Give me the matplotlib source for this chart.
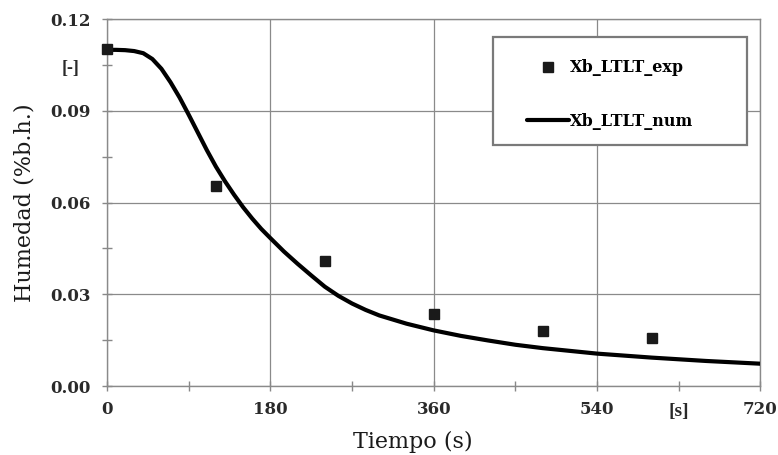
import matplotlib
matplotlib.use("Agg")
import matplotlib.pyplot as plt
from matplotlib.ticker import MultipleLocator
from matplotlib.patches import Rectangle

# Experimental data
t_exp = [0, 120, 240, 360, 480, 600]
x_exp = [0.1102, 0.0655, 0.0410, 0.0235, 0.0180, 0.0158]

# Numerical curve
t_num = [0, 10, 20, 30, 40, 50, 60, 70, 80, 90, 100, 110, 120, 130, 140, 150, 160, 170, 180,
         195, 210, 225, 240, 255, 270, 285, 300, 330, 360, 390, 420, 450, 480, 540, 600, 660, 720]
x_num = [0.1100, 0.1100, 0.1099, 0.1096, 0.1089, 0.1070, 0.1038, 0.0994, 0.0944, 0.0888,
         0.0830, 0.0772, 0.0718, 0.0670, 0.0626, 0.0585, 0.0548, 0.0514, 0.0484,
         0.0440, 0.0400, 0.0362, 0.0325, 0.0295, 0.0270, 0.0249, 0.0231, 0.0204, 0.0182,
         0.0164, 0.0149, 0.0135, 0.0124, 0.0106, 0.0093, 0.0082, 0.0073]

xticks = [0, 180, 360, 540, 720]
yticks = [0.00, 0.03, 0.06, 0.09, 0.12]

tick_font = {"family": "DejaVu Serif", "weight": "bold"}
unit_font = {"family": "Liberation Serif", "weight": "bold"}
lab_font = {"family": "DejaVu Serif"}

W, H = 778, 455
fig = plt.figure(figsize=(W / 100, H / 100), dpi=100)
ax = fig.add_axes([0.1375, 0.1516, 0.840, 0.806])

ax.plot(t_num, x_num, color="black", lw=3.0, solid_capstyle="round", solid_joinstyle="round",
        label="Xb_LTLT_num", zorder=3)
ax.plot(t_exp, x_exp, linestyle="none", marker="s", ms=7.5, color="#1a1a1a",
        label="Xb_LTLT_exp", zorder=4, clip_on=False)

ax.set_xlim(0, 720)
ax.set_ylim(0, 0.12)
ax.set_xticks(xticks)
ax.set_yticks(yticks)
ax.set_xticklabels([str(v) for v in xticks], fontdict=tick_font, fontsize=12, color="#2a2a2a")
ax.set_yticklabels([f"{v:.2f}" for v in yticks], fontdict=tick_font, fontsize=12, color="#2a2a2a")
ax.xaxis.set_minor_locator(MultipleLocator(90))
ax.yaxis.set_minor_locator(MultipleLocator(0.015))
ax.tick_params(axis="x", which="both", direction="inout", length=7, width=1, color="#888888", pad=7)
ax.tick_params(axis="y", which="both", direction="inout", length=7, width=1, color="#888888", pad=8)
ax.grid(True, which="major", color="#8a8a8a", lw=0.9)
ax.set_axisbelow(True)
for s in ax.spines.values():
    s.set_color("#8a8a8a")
    s.set_linewidth(1.0)

ax.set_xlabel("Tiempo (s)", fontdict=lab_font, fontsize=16, color="#1a1a1a", va="center")
ax.xaxis.set_label_coords(0.468, -0.153)
ax.set_ylabel("Humedad (%b.h.)", fontdict=lab_font, fontsize=16, color="#1a1a1a", labelpad=11)

ax.text(-0.055, 0.104, "[-]", transform=ax.get_yaxis_transform(), fontdict=unit_font,
        fontsize=13, ha="center", va="center", color="#2a2a2a")
ax.text(630, -0.0085, "[s]", fontdict=unit_font, fontsize=14, ha="center", va="center",
        color="#2a2a2a")

# legend frame (figure pixels: 493..747 x 37..145)
frame = Rectangle((493 / W, 1 - 145 / H), (747 - 493) / W, (145 - 37) / H,
                  transform=fig.transFigure, facecolor="white", edgecolor="#7a7a7a",
                  lw=1.6, zorder=5)
fig.add_artist(frame)

handles, labels = ax.get_legend_handles_labels()
leg = fig.legend(handles[::-1], labels[::-1], loc="upper left",
                 bbox_to_anchor=(524 / W, 1 - 56 / H), bbox_transform=fig.transFigure,
                 prop={"family": "DejaVu Serif", "weight": "bold", "size": 11.5},
                 frameon=False, borderpad=0.2, labelspacing=2.3, handlelength=2.6,
                 handletextpad=0.05, borderaxespad=0)
leg.set_zorder(6)

fig.savefig("out.png", dpi=100)
